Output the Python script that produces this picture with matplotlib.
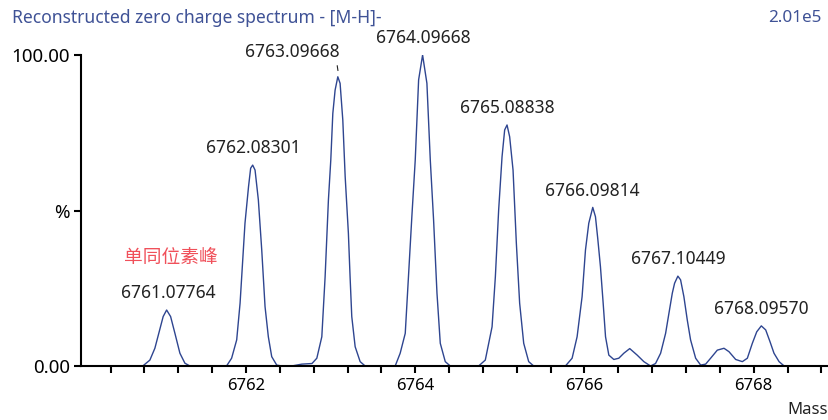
import numpy as np
import matplotlib
matplotlib.use("Agg")
import matplotlib.pyplot as plt

plt.rcParams['font.family'] = ['Noto Sans', 'Noto Sans CJK SC', 'DejaVu Sans']

# trace (mass, % intensity)
trace_mass = [
    6760.780, 6760.864, 6760.923, 6760.974, 6761.021, 6761.062, 6761.109, 6761.160, 6761.219, 6761.278, 6761.337,
    6761.770, 6761.830, 6761.890, 6761.930, 6761.988, 6762.030, 6762.055, 6762.079, 6762.107, 6762.146, 6762.186,
    6762.225, 6762.264, 6762.304, 6762.363, 6762.420,
    6762.540, 6762.660, 6762.780, 6762.837, 6762.896, 6762.935, 6762.974, 6763.002, 6763.026, 6763.053, 6763.085,
    6763.112, 6763.144, 6763.172, 6763.210, 6763.230, 6763.250, 6763.290, 6763.349, 6763.408,
    6763.763, 6763.822, 6763.882, 6763.920, 6763.960, 6764.000, 6764.040, 6764.087, 6764.138, 6764.178, 6764.217,
    6764.257, 6764.296, 6764.355, 6764.414,
    6764.749, 6764.828, 6764.908, 6764.947, 6764.986, 6765.026, 6765.057, 6765.085, 6765.116, 6765.156, 6765.195,
    6765.234, 6765.282, 6765.341, 6765.400,
    6765.775, 6765.854, 6765.913, 6765.972, 6766.012, 6766.051, 6766.098, 6766.130, 6766.157, 6766.189, 6766.221,
    6766.249, 6766.288, 6766.347, 6766.406, 6766.465, 6766.535, 6766.623, 6766.702, 6766.781,
    6766.840, 6766.900, 6766.959, 6766.998, 6767.038, 6767.065, 6767.104, 6767.136, 6767.175, 6767.215, 6767.254,
    6767.314, 6767.373, 6767.432, 6767.491, 6767.570, 6767.649, 6767.708, 6767.787, 6767.866, 6767.925, 6767.984,
    6768.036, 6768.090, 6768.142, 6768.193, 6768.240, 6768.300, 6768.360,
]
trace_int = [
    0.0, 1.9, 5.7, 11.0, 15.9, 18.0, 15.9, 10.5, 4.1, 0.9, 0.0,
    0.0, 2.5, 8.4, 20.2, 45.9, 57.7, 63.6, 64.6, 63.0, 53.4, 37.3,
    19.1, 9.4, 3.0, 0.3, 0.0,
    0.0, 0.6, 0.8, 2.5, 9.4, 28.7, 53.4, 66.2, 81.2, 88.7, 93.0,
    90.9, 79.1, 60.9, 42.7, 28.7, 15.9, 6.2, 1.4, 0.0,
    0.0, 4.1, 10.5, 28.7, 48.0, 66.2, 92.0, 100.0, 90.9, 66.2, 46.9,
    23.4, 7.3, 1.4, 0.0,
    0.0, 1.9, 12.6, 28.7, 50.2, 67.3, 75.9, 77.5, 73.7, 63.0, 39.5,
    20.2, 7.3, 1.4, 0.0,
    0.0, 2.5, 9.4, 22.3, 37.3, 45.9, 51.0, 48.0, 41.0, 31.9, 20.2,
    9.4, 3.5, 2.1, 2.5, 4.1, 5.6, 3.5, 1.4, 0.0,
    0.8, 4.1, 10.5, 16.9, 23.4, 26.6, 28.9, 27.7, 22.3, 14.8, 8.4,
    2.5, 0.3, 0.6, 2.5, 5.1, 5.7, 4.6, 2.1, 1.4, 2.5, 7.3,
    11.0, 12.9, 11.6, 7.8, 4.1, 1.4, 0.0,
]

# labelled peaks
peak_labels = ['6761.07764', '6762.08301', '6763.09668', '6764.09668',
               '6765.08838', '6766.09814', '6767.10449', '6768.09570']
peak_height = [18.0, 64.6, 93.0, 100.0, 77.5, 51.0, 28.9, 12.9]

title_col = '#3f5296'
line_col = '#2e4590'
text_col = '#222222'

fig = plt.figure(figsize=(8.29, 4.20), dpi=100)
ax = fig.add_axes([81 / 829, 54 / 420, 748 / 829, 311 / 420])

ax.plot(trace_mass, trace_int, color=line_col, lw=1.0)

ax.set_xlim(6760.05, 6768.89)
ax.set_ylim(0, 100)

for s in ['top', 'right']:
    ax.spines[s].set_visible(False)
for s in ['left', 'bottom']:
    ax.spines[s].set_linewidth(1.5)

major = [6762, 6764, 6766, 6768]
minor = [m * 0.4 for m in range(16901, 16923) if round(m * 0.4, 3) not in major]
ax.set_xticks(major, [str(v) for v in major])
ax.set_xticks(minor, minor=True)
ax.tick_params(axis='x', which='both', length=5, width=1.5, direction='out', labelsize=12, pad=4)
ax.set_yticks([0, 50, 100], ['0.00', '%', '100.00'])
ax.tick_params(axis='y', length=5, width=1.5, labelsize=13.5, pad=3)

for i, (lab, h) in enumerate(zip(peak_labels, peak_height)):
    m = float(lab)
    if i == 2:
        # label pushed left with a short leader line
        ax.annotate(lab, xy=(m - 0.01, h + 2), xytext=(-33, 13), textcoords='offset points',
                    ha='center', va='center', fontsize=12.5, color=text_col,
                    arrowprops=dict(arrowstyle='-', color=text_col, lw=0.8,
                                    relpos=(0.97, 0.0), shrinkA=1, shrinkB=0))
    else:
        ax.annotate(lab, xy=(m, h), xytext=(0, 12), textcoords='offset points',
                    ha='center', va='center', fontsize=12.5, color=text_col)

ax.annotate('单同位素峰', xy=(float(peak_labels[0]), peak_height[0]), xytext=(2, 37.5),
            textcoords='offset points', ha='center', va='center', fontsize=13.5,
            color='#f0505a', family=['Noto Sans CJK SC', 'DejaVu Sans'])

fig.text(12 / 829, 1 - 18 / 420, 'Reconstructed zero charge spectrum - [M-H]-',
         ha='left', va='center', fontsize=12.6, color=title_col)
fig.text(822 / 829, 1 - 18 / 420, '2.01e5', ha='right', va='center', fontsize=12.3, color=title_col)
fig.text(808 / 829, 1 - 410 / 420, 'Mass', ha='center', va='center', fontsize=12, color=text_col)

fig.savefig('out.png', dpi=100)
